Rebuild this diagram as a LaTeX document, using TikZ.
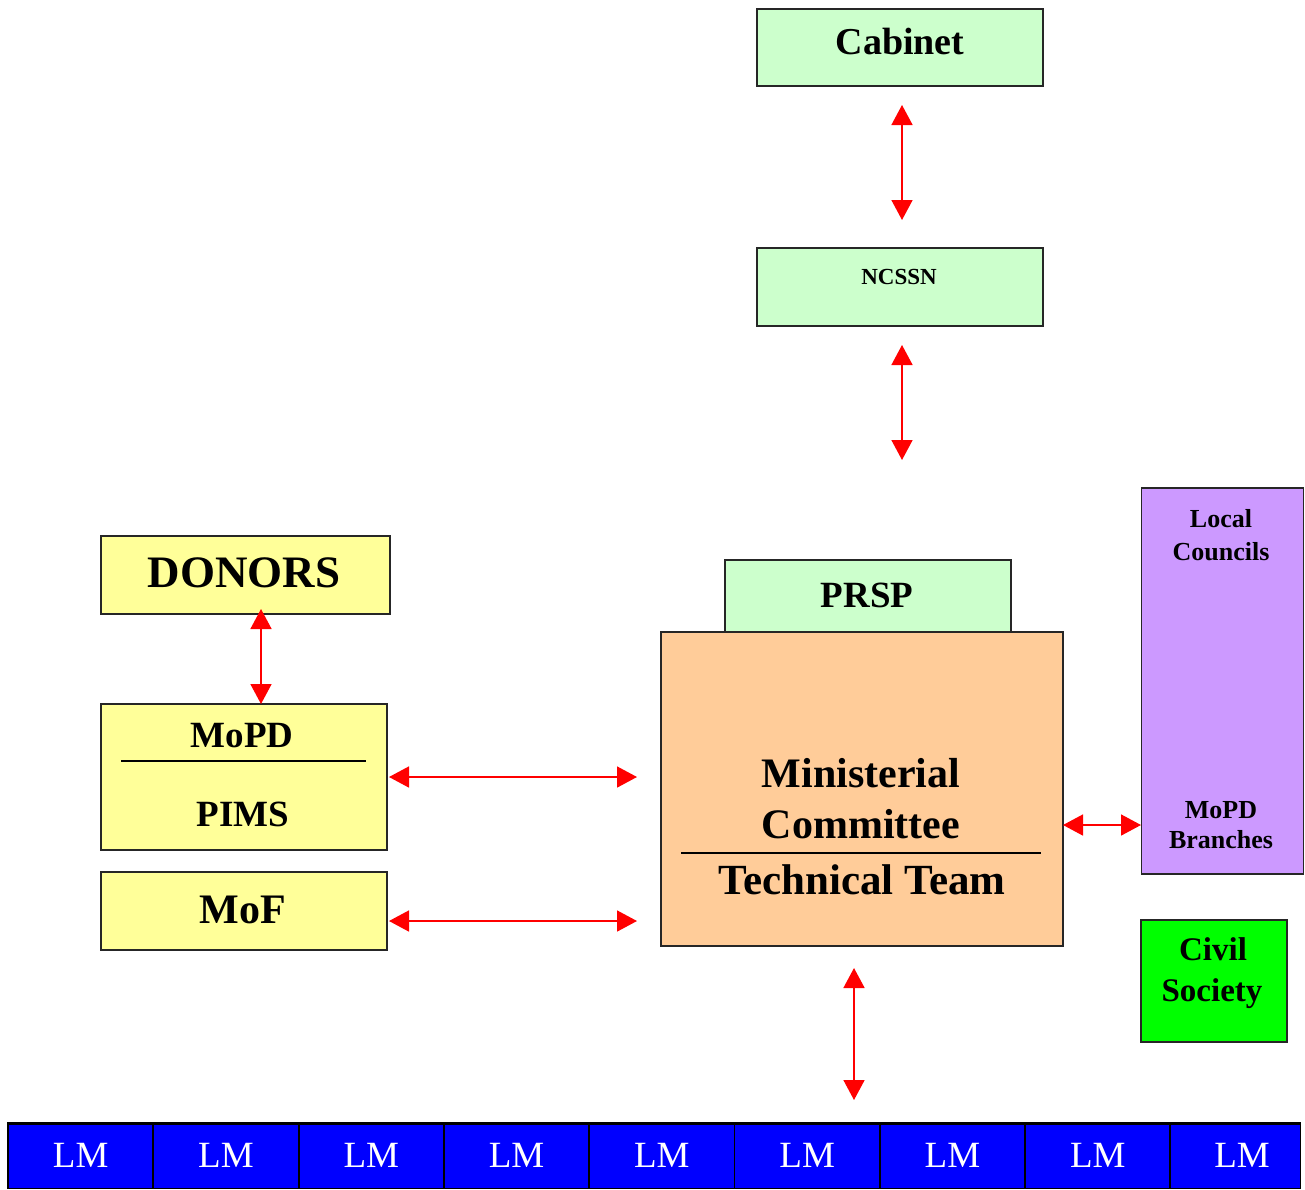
\documentclass[tikz,border=0pt]{standalone}
\usepackage{fontspec}
\setmainfont{Liberation Serif}
\usetikzlibrary{arrows.meta}
\definecolor{lgreen}{HTML}{CCFFCC}
\definecolor{lyellow}{HTML}{FFFF99}
\definecolor{peach}{HTML}{FFCC99}
\definecolor{lpurple}{HTML}{CC99FF}
\definecolor{vgreen}{HTML}{00FF00}
\definecolor{vblue}{HTML}{0000FF}
\begin{document}
\begin{tikzpicture}[x=1pt,y=-1pt,
  box/.style={draw=black!85, line width=1.4pt, inner sep=0pt},
  lbl/.style={anchor=base, inner sep=0pt, font=\bfseries\fontsize{#1pt}{#1pt}\selectfont},
  lmtext/.style={anchor=base, inner sep=0pt, text=white, font=\fontsize{37pt}{37pt}\selectfont},
  lmcell/.style={fill=vblue, inner sep=0pt, minimum height=65pt},
  lmborder/.style={draw=black, line width=1.4pt},
  biarrow/.style={red, line width=1.6pt, {Triangle[width=21pt,length=20pt]}-{Triangle[width=21pt,length=20pt]}}
]
\useasboundingbox (0,0) rectangle (1305,1189);

% boxes
\node[box, fill=lgreen, minimum width=286pt, minimum height=77pt] (cabinet) at (900,47.5) {};
\node[box, fill=lgreen, minimum width=286pt, minimum height=78pt] (ncssn) at (900,287) {};
\node[box, fill=lgreen, minimum width=286pt, minimum height=72pt] (prsp) at (868,596) {};
\node[box, fill=peach, minimum width=402pt, minimum height=314pt] (mc) at (862,789) {};
\node[box, fill=lpurple, minimum width=162pt, minimum height=386pt] (local) at (1222.5,681) {};
\node[box, fill=vgreen, minimum width=146pt, minimum height=122pt] (civil) at (1214,981) {};
\node[box, fill=lyellow, minimum width=289pt, minimum height=78pt] (donors) at (245.5,575) {};
\node[box, fill=lyellow, minimum width=286pt, minimum height=146pt] (mopd) at (244,777) {};
\node[box, fill=lyellow, minimum width=286pt, minimum height=78pt] (mof) at (244,911) {};

% texts
\node[lbl=38] (cabinet-t) at (900,54) {Cabinet};
\node[lbl=23] (ncssn-t) at (899,284) {NCSSN};
\node[lbl=37] (prsp-t) at (867,607) {PRSP};
\node[lbl=42] (mc-t1) at (861,787) {Ministerial};
\node[lbl=42] (mc-t2) at (861,838) {Committee};
\node[lbl=43] (mc-t3) at (862,894) {Technical Team};
\node[lbl=26] (local-t1) at (1221,527) {Local};
\node[lbl=26] (local-t2) at (1221,560) {Councils};
\node[lbl=26] (local-t3) at (1221,818) {MoPD};
\node[lbl=26] (local-t4) at (1221,848) {Branches};
\node[lbl=33] (civil-t1) at (1213,960) {Civil};
\node[lbl=33] (civil-t2) at (1212,1001) {Society};
\node[lbl=45] (donors-t) at (244,587) {DONORS};
\node[lbl=37] (mopd-t1) at (242,747) {MoPD};
\node[lbl=37] (mopd-t2) at (243,826) {PIMS};
\node[lbl=42] (mof-t) at (243,923) {MoF};

% divider lines
\coordinate (mopdL) at (121,761);
\coordinate (mopdR) at (366,761);
\draw[line width=2.2pt] (mopdL) -- (mopdR);
\coordinate (mcL) at (681,853);
\coordinate (mcR) at (1041,853);
\draw[line width=2.2pt] (mcL) -- (mcR);

% arrow end points
\coordinate (a1t) at (902,105);
\coordinate (a1b) at (902,220);
\coordinate (a2t) at (902,345);
\coordinate (a2b) at (902,460);
\coordinate (a3t) at (261,609);
\coordinate (a3b) at (261,704);
\coordinate (a4l) at (389,777);
\coordinate (a4r) at (637,777);
\coordinate (a5l) at (389,921);
\coordinate (a5r) at (637,921);
\coordinate (a6l) at (1063,825);
\coordinate (a6r) at (1141,825);
\coordinate (a7t) at (854,968);
\coordinate (a7b) at (854,1100);

\draw[biarrow] (a1t) -- (a1b);
\draw[biarrow] (a2t) -- (a2b);
\draw[biarrow] (a3t) -- (a3b);
\draw[biarrow] (a4l) -- (a4r);
\draw[biarrow] (a5l) -- (a5r);
\draw[biarrow] (a6l) -- (a6r);
\draw[biarrow] (a7t) -- (a7b);

% LM bar
\foreach \i in {0,...,7} {
  \node[lmcell, minimum width=145.3pt] (lm\i) at ({8+145.3*\i+72.65},1155.5) {};
}
\node[lmcell, minimum width=130pt] (lm8) at (1235,1155.5) {};
\foreach \i in {0,...,8} {
  \draw[lmborder] (lm\i.north west) rectangle (lm\i.south east);
}
\foreach \i in {0,...,7} {
  \node[lmtext] (lmt\i) at ({8+145.3*\i+72.65},1167) {LM};
}
\node[lmtext] (lmt8) at (1242,1167) {LM};
\coordinate (barL) at (7,1123);
\coordinate (barR) at (1300,1123);
\draw[line width=3pt] (barL) -- (barR);
\end{tikzpicture}
\end{document}
